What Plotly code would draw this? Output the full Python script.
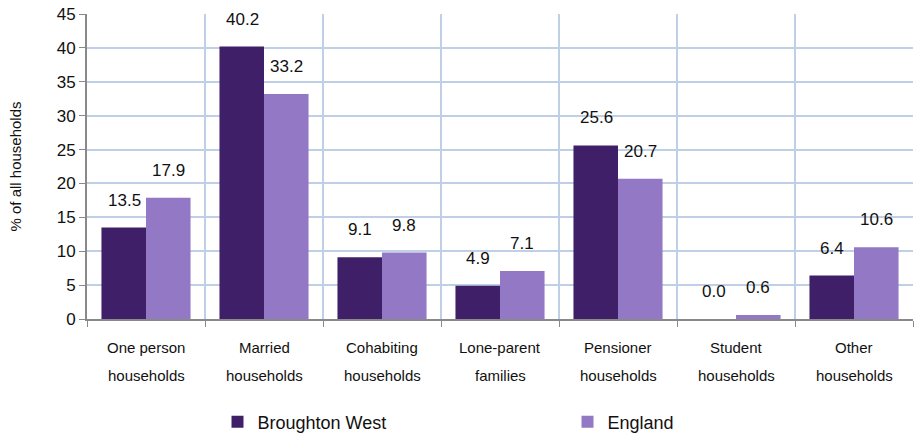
import plotly.graph_objects as go

categories = ["One person households", "Married households", "Cohabiting households",
              "Lone-parent families", "Pensioner households", "Student households", "Other households"]
label_line1 = ["One person", "Married", "Cohabiting", "Lone-parent", "Pensioner", "Student", "Other"]
label_line2 = ["households", "households", "households", "families", "households", "households", "households"]
broughton = [13.5, 40.2, 9.1, 4.9, 25.6, 0.0, 6.4]
england = [17.9, 33.2, 9.8, 7.1, 20.7, 0.6, 10.6]
y_ticks = [0, 5, 10, 15, 20, 25, 30, 35, 40, 45]

DARK = "#3F2068"
LIGHT = "#9378C5"
GRID = "#BFD0E6"
AXIS = "#898989"
FONT = "Liberation Sans, Arial, sans-serif"

fig = go.Figure()
fig.add_trace(go.Bar(x=categories, y=broughton, name="Broughton West", marker_color=DARK,
                     marker_line_width=0))
fig.add_trace(go.Bar(x=categories, y=england, name="England", marker_color=LIGHT,
                     marker_line_width=0))

annotations = []
for i, c in enumerate(categories):
    for val, shift in ((broughton[i], -22), (england[i], 22)):
        annotations.append(dict(x=c, y=val, xref="x", yref="y", text=f"{val:.1f}",
                                showarrow=False, xshift=shift, yshift=16, yanchor="bottom",
                                font=dict(family=FONT, size=17, color="#111111")))
    annotations.append(dict(x=c, y=0, xref="x", yref="paper", text=label_line1[i], showarrow=False,
                            yshift=-28, yanchor="middle",
                            font=dict(family=FONT, size=15, color="#111111")))
    annotations.append(dict(x=c, y=0, xref="x", yref="paper", text=label_line2[i], showarrow=False,
                            yshift=-56, yanchor="middle",
                            font=dict(family=FONT, size=15, color="#111111")))

fig.update_layout(
    width=919, height=436,
    margin=dict(l=87, r=6, t=14, b=117, autoexpand=False),
    paper_bgcolor="white", plot_bgcolor="white",
    barmode="group", bargap=0.245, bargroupgap=0,
    font=dict(family=FONT, color="#111111"),
    annotations=annotations,
    showlegend=True,
    legend=dict(orientation="h", x=0.158, y=-0.338, xanchor="left", yanchor="middle",
                font=dict(family=FONT, size=18, color="#111111"),
                entrywidth=305, entrywidthmode="pixels", itemwidth=30,
                bgcolor="rgba(0,0,0,0)"),
    xaxis=dict(showticklabels=False, tickson="boundaries", ticks="outside", ticklen=6,
               tickcolor=AXIS, showgrid=True, gridcolor=GRID, gridwidth=1.5,
               showline=True, linecolor=AXIS, linewidth=2, zeroline=False, automargin=False),
    yaxis=dict(range=[0, 45], tickvals=y_ticks, ticks="outside", ticklen=6, tickcolor=AXIS,
               showgrid=True, gridcolor=GRID, gridwidth=1.5, automargin=False,
               ticklabeloverflow="allow",
               showline=True, linecolor=AXIS, linewidth=2, zeroline=False,
               tickfont=dict(family=FONT, size=17, color="#111111"),
               title=dict(text="% of all households", standoff=31,
                          font=dict(family=FONT, size=15, color="#111111"))),
)

fig.write_html("out.html", config={"displayModeBar": False},
               post_script="document.body.style.margin='0';document.body.style.overflow='hidden';")
